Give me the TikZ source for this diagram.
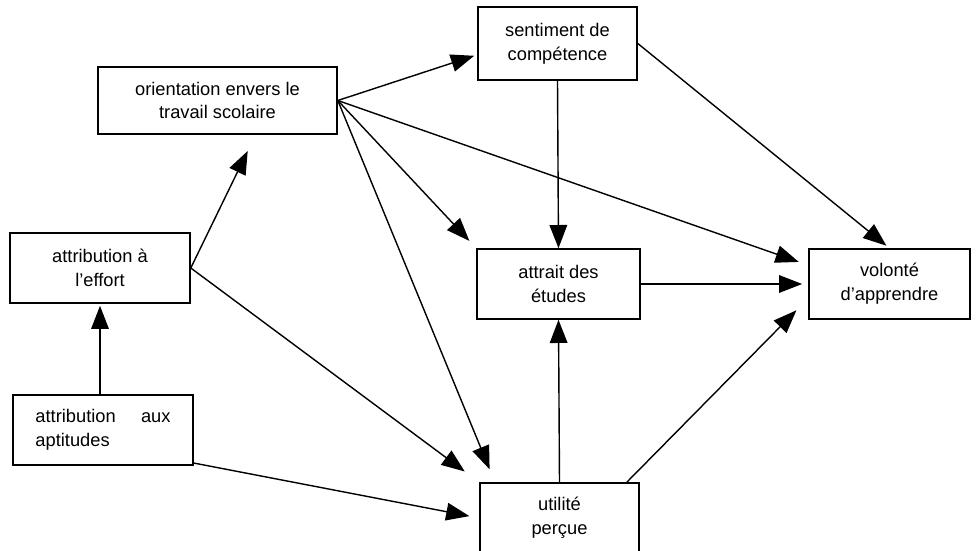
\documentclass[tikz,border=0pt]{standalone}
\usepackage{fontspec}
\setmainfont{Liberation Sans}
\usetikzlibrary{arrows.meta}

\begin{document}
\begin{tikzpicture}[x=0.025cm, y=-0.025cm,
    box/.style={draw, line width=1.1pt, inner sep=0pt, align=center, minimum height=1.75cm, font=\fontsize{13}{17}\selectfont},
    link/.style={line width=1pt, -{Triangle[length=0.58cm, width=0.44cm]}}]
  \path[use as bounding box, fill=white] (0,0) rectangle (976,551);

  \node[box, minimum width=5.975cm, minimum height=1.675cm] (orient) at (217.5,100.5) {orientation envers le\\travail scolaire};
  \node[box, minimum width=3.975cm, minimum height=1.825cm] (sentiment) at (557.5,43.5) {sentiment de\\compétence};
  \node[box, minimum width=4.5cm] (effort) at (100,268) {attribution à\\l'effort};
  \node[box, minimum width=4.5cm] (aptitudes) at (103,430) {\parbox{3.375cm}{attribution\hfill aux\\aptitudes}};
  \node[box, minimum width=4.075cm] (attrait) at (558.5,284) {attrait des\\études};
  \node[box, minimum width=3.975cm] (utilite) at (559.5,518) {utilité\\perçue};
  \node[box, minimum width=4.025cm] (volonte) at (889.5,284) {volonté\\d'apprendre};

  \draw[link, shorten >=0.05cm] (aptitudes.north -| effort) -- (effort.south);
  \draw[link, shorten >=0.45cm] (effort.east) -- (orient.-42);
  \draw[link, shorten >=0.45cm] (effort.east) -- (utilite.north west);
  \draw[link, shorten >=0.25cm] (aptitudes.-20) -- (utilite.west);

  \draw[link, shorten >=0.08cm] (orient.east) -- (sentiment.188);
  \draw[link, shorten >=0.25cm] (orient.east) -- (attrait.north west);
  \draw[link, shorten >=0.25cm] (orient.east) -- (volonte.167);
  \draw[link, shorten >=0.35cm] (orient.east) -- (utilite.151);

  \draw[link] (sentiment.south) -- (attrait.north);
  \draw[link, shorten >=0.1cm] (sentiment.east) -- (volonte.north);
  \draw[link, shorten >=0.15cm] (attrait.east) -- (volonte.west);
  \draw[link] (utilite.north) -- (attrait.south);
  \draw[link, shorten >=0.42cm] (utilite.28) -- (volonte.190);
\end{tikzpicture}
\end{document}
